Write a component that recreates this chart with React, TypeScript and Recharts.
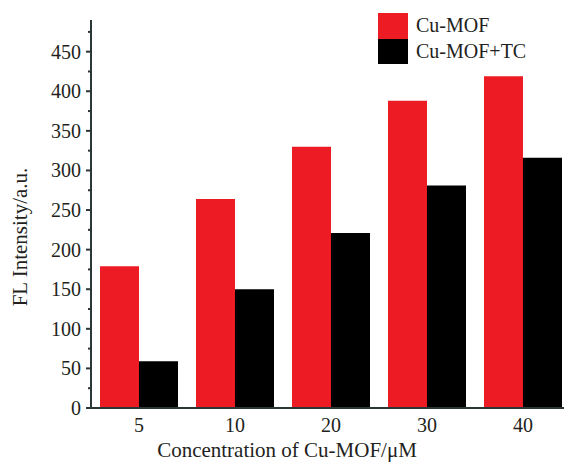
import React from 'react';
import { BarChart, Bar, XAxis, YAxis, Legend } from 'recharts';

const concentrations = ['5', '10', '20', '30', '40'];
const cuMof = [179, 264, 330, 388, 419];
const cuMofTc = [59, 150, 221, 281, 316];
const yTicks = [0, 25, 50, 75, 100, 125, 150, 175, 200, 225, 250, 275, 300, 325, 350, 375, 400, 425, 450, 475];

const data = concentrations.map((c, i) => ({ conc: c, 'Cu-MOF': cuMof[i], 'Cu-MOF+TC': cuMofTc[i] }));

const FONT = '"Liberation Serif", "Times New Roman", serif';
const AXIS = '#2b3636';
const TEXT = '#231f20';

const YTick = (props: any) => {
  const { x, y, payload } = props;
  const axisX = x + 10;
  const major = payload.value % 50 === 0;
  return (
    <g>
      <line x1={axisX - (major ? 5 : 3)} x2={axisX} y1={y} y2={y} stroke={AXIS} strokeWidth={2} />
      {major && (
        <text x={x} y={y} dy='0.35em' textAnchor='end' fontSize={20} fontFamily={FONT} fill={TEXT}>
          {payload.value}
        </text>
      )}
    </g>
  );
};

const XTitle = (props: any) => {
  const vb = props.viewBox;
  return (
    <text x={vb.x + vb.width / 2 - 44} y={vb.y + 49} textAnchor='middle' fontSize={21} fontFamily={FONT} fill={TEXT}>
      Concentration of Cu-MOF/μM
    </text>
  );
};

const YTitle = (props: any) => {
  const vb = props.viewBox;
  const cx = 27;
  const cy = vb.y + 217;
  return (
    <text x={cx} y={cy} transform={`rotate(-90, ${cx}, ${cy})`} textAnchor='middle' fontSize={21} fontFamily={FONT} fill={TEXT}>
      FL Intensity/a.u.
    </text>
  );
};

const LegendBox = (props: any) => (
  <div>
    {props.payload.map((p: any) => (
      <div key={p.value} style={{ display: 'flex', alignItems: 'center', height: 25.5 }}>
        <div style={{ width: 30, height: 25.5, background: p.color }} />
        <span style={{ marginLeft: 8, fontSize: 20, fontFamily: FONT, color: TEXT, lineHeight: '25px' }}>{p.value}</span>
      </div>
    ))}
  </div>
);

const App = () => (
  <div style={{ position: 'absolute', left: 0, top: 0, width: 564, height: 464, overflow: 'hidden', background: '#fff' }}>
    <BarChart width={571} height={464} data={data} margin={{ top: 20, right: 0, bottom: 0, left: 0 }} barCategoryGap={9} barGap={0}>
      <XAxis
        dataKey='conc'
        height={56}
        tickLine={false}
        tickSize={0}
        tickMargin={10}
        axisLine={{ stroke: AXIS, strokeWidth: 2 }}
        tick={{ fontSize: 20, fontFamily: FONT, fill: TEXT }}
        label={<XTitle />}
      />
      <YAxis
        width={91}
        domain={[0, 490]}
        ticks={yTicks}
        interval={0}
        tickSize={6}
        tickMargin={4}
        tickLine={{ strokeOpacity: 0 }}
        axisLine={{ stroke: AXIS, strokeWidth: 2 }}
        tick={<YTick />}
        label={<YTitle />}
      />
      <Legend
        layout='horizontal'
        verticalAlign='middle'
        align='center'
        wrapperStyle={{ position: 'absolute', left: 378, top: 13, width: 'auto' }}
        content={<LegendBox />}
      />
      <Bar dataKey='Cu-MOF' fill='#ed1c24' isAnimationActive={false} />
      <Bar dataKey='Cu-MOF+TC' fill='#000000' isAnimationActive={false} />
    </BarChart>
  </div>
);

export default App;
